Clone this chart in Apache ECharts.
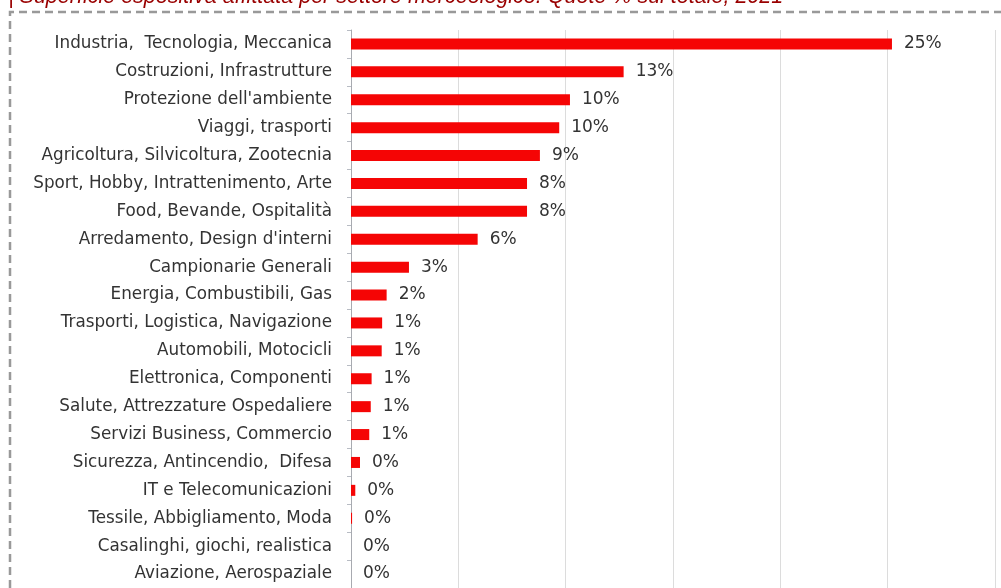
<!DOCTYPE html>
<html>
<head>
<meta charset="utf-8">
<script src="https://cdn.jsdelivr.net/npm/echarts@6/dist/echarts.min.js"></script>
<style>
  html, body { margin: 0; padding: 0; background: #fff; }
  #main { width: 1001px; height: 588px; }
</style>
</head>
<body>
<div id="main"></div>
<script>
// settori, dall'alto verso il basso
var categories = [
  'Industria,  Tecnologia, Meccanica',
  'Costruzioni, Infrastrutture',
  'Protezione dell\'ambiente',
  'Viaggi, trasporti',
  'Agricoltura, Silvicoltura, Zootecnia',
  'Sport, Hobby, Intrattenimento, Arte',
  'Food, Bevande, Ospitalità',
  'Arredamento, Design d\'interni',
  'Campionarie Generali',
  'Energia, Combustibili, Gas',
  'Trasporti, Logistica, Navigazione',
  'Automobili, Motocicli',
  'Elettronica, Componenti',
  'Salute, Attrezzature Ospedaliere',
  'Servizi Business, Commercio',
  'Sicurezza, Antincendio,  Difesa',
  'IT e Telecomunicazioni',
  'Tessile, Abbigliamento, Moda',
  'Casalinghi, giochi, realistica',
  'Aviazione, Aerospaziale'
];
// quote % sul totale
var quote = [25.2, 12.7, 10.2, 9.7, 8.8, 8.2, 8.2, 5.9, 2.7, 1.66, 1.45, 1.43, 0.96, 0.92, 0.85, 0.42, 0.2, 0.05, 0, 0];
var xTicks = [0, 5, 10, 15, 20, 25, 30];

var titolo = '| Superficie espositiva affittata per settore merceologico. Quote % sul totale, 2021';

var myChart = echarts.init(document.getElementById('main'));
myChart.setOption({
  animation: false,
  backgroundColor: '#fff',
  grid: {
    left: 351,
    right: 6,
    top: 30,
    height: 562,
    containLabel: false
  },
  xAxis: {
    type: 'value',
    min: xTicks[0],
    max: xTicks[xTicks.length - 1],
    interval: 5,
    axisLabel: { show: false },
    axisLine: { show: false },
    axisTick: { show: false },
    splitLine: { lineStyle: { color: '#dcdcdc', width: 1 } }
  },
  yAxis: {
    type: 'category',
    inverse: true,
    data: categories,
    axisLine: { lineStyle: { color: '#a8aab0', width: 1 } },
    axisTick: { show: true, length: 4, lineStyle: { color: '#b8bcc4' } },
    axisLabel: {
      margin: 19,
      color: '#333',
      fontFamily: 'DejaVu Sans',
      fontSize: 16.8
    }
  },
  series: [{
    name: 'Quota',
    type: 'bar',
    data: quote,
    barWidth: 11,
    itemStyle: { color: '#f50505' },
    label: {
      show: true,
      position: 'right',
      distance: 12,
      color: '#333',
      fontFamily: 'DejaVu Sans',
      fontSize: 17
    ,
      formatter: function (p) { return Math.round(p.value) + '%'; }
    }
  }],
  graphic: [
    {
      type: 'text',
      left: 8,
      top: -14,
      style: {
        text: titolo,
        fill: '#990000',
        font: 'italic 21.5px "Liberation Sans", Arial, sans-serif'
      }
    },
    {
      type: 'polyline',
      shape: { points: [[10, 588], [10, 12], [1001, 12]] },
      style: { stroke: '#999', lineWidth: 2.5, lineDash: [8, 5], fill: null }
    }
  ]
});
</script>
</body>
</html>
